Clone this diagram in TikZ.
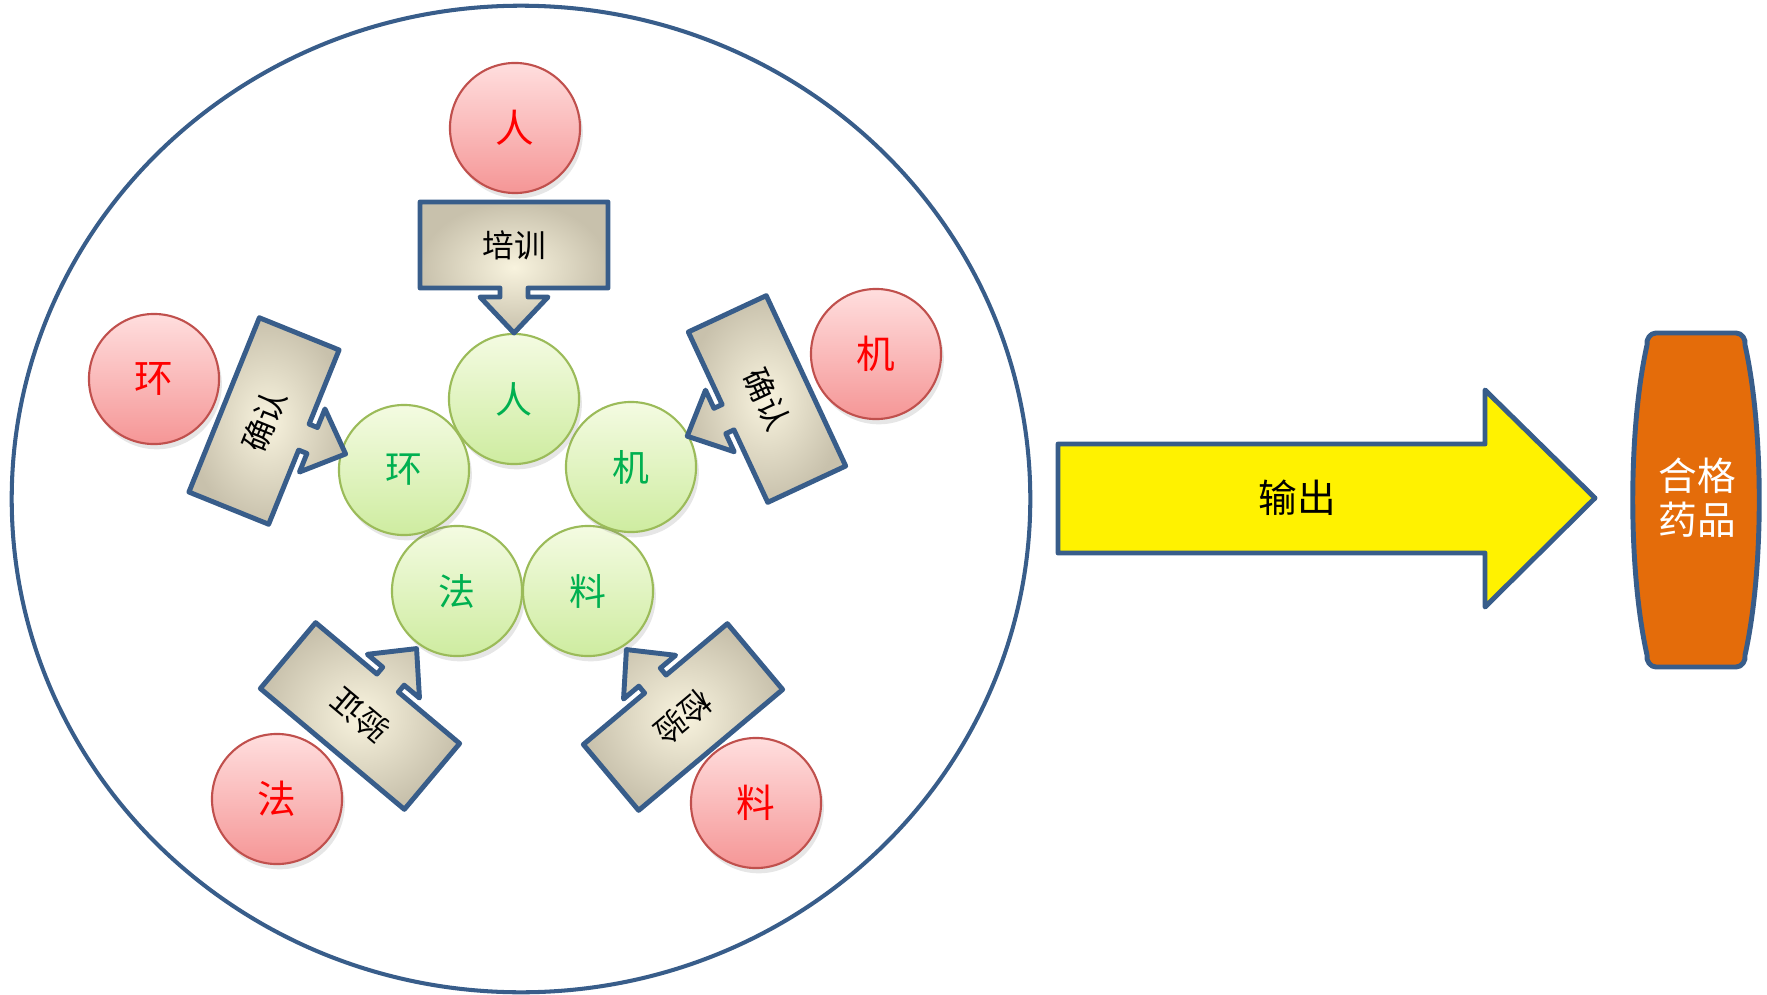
\documentclass[tikz,border=0pt]{standalone}
\usepackage{fontspec}
\setmainfont{Noto Sans CJK SC}
\usepackage{tikz}
\usetikzlibrary{shapes.geometric,shadows}
\definecolor{lineblue}{RGB}{56,93,138}
\definecolor{redline}{RGB}{192,80,77}
\definecolor{greenline}{RGB}{155,187,89}
\definecolor{greentext}{RGB}{0,176,80}
\definecolor{boxin}{RGB}{248,243,222}
\definecolor{boxout}{RGB}{200,193,172}
\definecolor{drugorange}{RGB}{228,108,10}
% callout box: name, centre, angle, text
\newcommand{\callbox}[4]{%
  \begin{scope}[shift={#2},rotate=#3]
    \draw[call box] (-94,-43) -- (94,-43) -- (94,43) -- (14,43) -- (14,52) -- (34,52)
      -- (0,88) -- (-34,52) -- (-14,52) -- (-14,43) -- (-94,43) -- cycle;
    \node[call text,rotate=#3] (#1) at (0,0) {#4};
  \end{scope}}

\begin{document}
\begin{tikzpicture}[x=0.01cm,y=-0.01cm,
    red ball/.style={circle,draw=redline,line width=0.6pt,minimum size=1.3cm,inner sep=0pt,
      top color={rgb,255:red,255;green,222;blue,222},bottom color={rgb,255:red,245;green,150;blue,150},
      text=red,font=\fontsize{11}{13}\selectfont,
      drop shadow={shadow xshift=0.8pt,shadow yshift=-1.5pt,opacity=0.2}},
    green ball/.style={circle,draw=greenline,line width=0.6pt,minimum size=1.3cm,inner sep=0pt,
      top color={rgb,255:red,244;green,251;blue,226},bottom color={rgb,255:red,206;green,236;blue,160},
      text=greentext,font=\fontsize{10.5}{12}\selectfont,
      drop shadow={shadow xshift=0.8pt,shadow yshift=-1.5pt,opacity=0.2}},
    call box/.style={draw=lineblue,line width=1.4pt,line join=round,inner color=boxin,outer color=boxout},
    call text/.style={inner sep=0pt,font=\fontsize{9}{11}\selectfont}]
  \useasboundingbox (0,0) rectangle (1767,994);

  % big ring
  \node[ellipse,draw=lineblue,line width=1.15pt,minimum width=10.18cm,minimum height=9.86cm,inner sep=0pt] (ring) at (521,499) {};

  % outer balls
  \node[red ball] (R1) at (515,128) {人};
  \node[red ball] (R2) at (876,354) {机};
  \node[red ball] (R3) at (756,803) {料};
  \node[red ball] (R4) at (277,799) {法};
  \node[red ball] (R5) at (154,379) {环};

  % inner balls
  \node[green ball] (G4) at (457,591) {法};
  \node[green ball] (G3) at (588,591) {料};
  \node[green ball] (G5) at (404,470) {环};
  \node[green ball] (G2) at (631,467) {机};
  \node[green ball] (G1) at (514,399) {人};

  % callout boxes
  \callbox{train}{(514,245)}{0}{培训}
  \callbox{checkL}{(264,421)}{68}{确认}
  \callbox{checkR}{(767,399)}{-65}{确认}
  \callbox{verify}{(360,716)}{140}{验证}
  \callbox{inspect}{(683,717)}{-140}{检验}

  % output arrow
  \draw[draw=lineblue,line width=1.4pt,line join=round,fill=yellow]
    (1058,444) -- (1485,444) -- (1485,390) -- (1595,498) -- (1485,607) -- (1485,553) -- (1058,553) -- cycle;
  \node[font=\fontsize{11}{13}\selectfont] (out) at (1297,498) {输出};

  % product
  \draw[draw=lineblue,line width=1.4pt,fill=drugorange,line join=round]
    (1696,333) -- (1736,333) to[out=0,in=80] (1745,345) .. controls (1764,430) and (1764,570) .. (1745,655)
    to[out=-80,in=0] (1736,667) -- (1656,667) to[out=180,in=-100] (1647,655)
    .. controls (1628,570) and (1628,430) .. (1647,345) to[out=100,in=180] (1656,333) -- cycle;
  \node[text=white,align=center,font=\fontsize{11}{12.5}\selectfont] (drug) at (1697,498) {合格\\药品};
\end{tikzpicture}
\end{document}
